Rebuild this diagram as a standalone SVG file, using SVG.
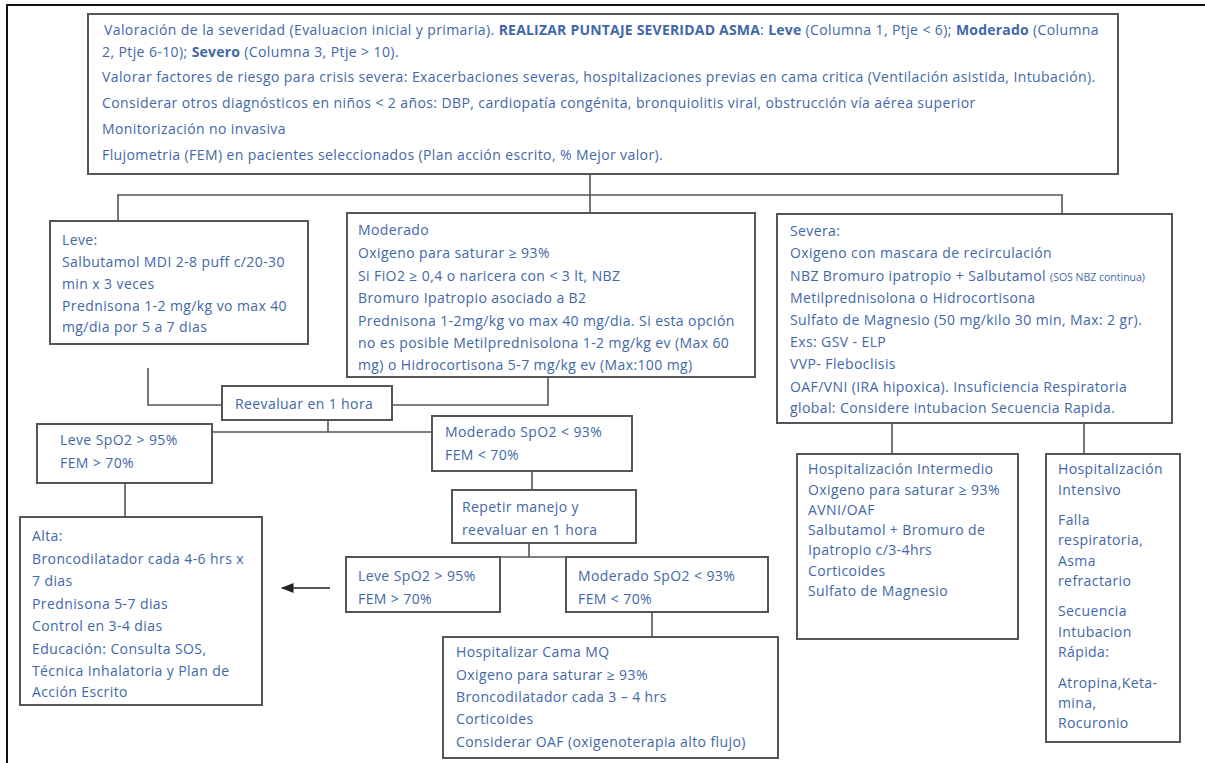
<svg xmlns="http://www.w3.org/2000/svg" width="1205" height="763" viewBox="0 0 1205 763">
<style>
.box{fill:#fff;stroke:#555;stroke-width:2}
.ln{fill:none;stroke:#555;stroke-width:1.6}
text{font-family:"Open Sans","Liberation Sans",sans-serif;font-size:14px;letter-spacing:0.4px;fill:#4267a8}
.b{font-weight:bold;letter-spacing:0.2px}
.sm{font-size:10.5px;letter-spacing:0}
</style>
<defs>
<marker id="ah" viewBox="0 0 10 10" refX="9" refY="5" markerWidth="8" markerHeight="8" orient="auto"><path d="M0,1 L10,5 L0,9 z" fill="#222"/></marker>
</defs>
<rect width="1205" height="763" fill="#fff"/>
<path d="M7,763 V5 H1205" fill="none" stroke="#111" stroke-width="2"/>
<g id="connectors">
<path class="ln" d="M590,174 V213"/>
<path class="ln" d="M118,221 V195 H1062 V214"/>
<path class="ln" d="M148,368 V405 H222"/>
<path class="ln" d="M392,405 H548 V377"/>
<path class="ln" d="M328,420 V432 M212,432 H432"/>
<path class="ln" d="M125,483 V517"/>
<path class="ln" d="M532,471 V490"/>
<path class="ln" d="M529,543 V557 M500,557 H566"/>
<path class="ln" d="M652,612 V637"/>
<path class="ln" d="M892,423 V454 M1084,423 V454"/>
<path d="M330,588 H282" fill="none" stroke="#222" stroke-width="1.6" marker-end="url(#ah)"/>
</g>
<g id="top">
<rect class="box" x="88" y="14" width="1030" height="160"/>
<text x="104" y="35"> Valoración de la severidad (Evaluacion inicial y primaria). <tspan class="b">REALIZAR PUNTAJE SEVERIDAD  ASMA</tspan>: <tspan class="b">Leve</tspan> (Columna 1, Ptje &lt; 6); <tspan class="b">Moderado</tspan> (Columna</text>
<text x="102" y="57">2, Ptje 6-10); <tspan class="b">Severo</tspan> (Columna 3, Ptje &gt; 10).</text>
<text x="102" y="82">Valorar factores de riesgo para crisis severa: Exacerbaciones severas, hospitalizaciones previas en cama critica (Ventilación asistida, Intubación).</text>
<text x="102" y="108">Considerar otros diagnósticos en niños &lt; 2 años: DBP,  cardiopatía congénita, bronquiolitis viral, obstrucción vía aérea superior</text>
<text x="102" y="134">Monitorización no invasiva</text>
<text x="102" y="160">Flujometria (FEM) en  pacientes seleccionados (Plan acción escrito, % Mejor valor).</text>
</g>
<g id="leve">
<rect class="box" x="50" y="221" width="258" height="123"/>
<text x="62" y="245">Leve:</text>
<text x="62" y="267">Salbutamol MDI 2-8 puff c/20-30</text>
<text x="62" y="289">min x 3 veces</text>
<text x="62" y="311">Prednisona 1-2 mg/kg vo max 40</text>
<text x="62" y="332">mg/dia por 5 a 7 dias</text>
</g>
<g id="moderado">
<rect class="box" x="347" y="213" width="408" height="164"/>
<text x="358" y="235">Moderado</text>
<text x="358" y="258">Oxigeno para saturar ≥ 93%</text>
<text x="358" y="281">Si FiO2 ≥ 0,4 o naricera con &lt; 3 lt, NBZ</text>
<text x="358" y="303">Bromuro Ipatropio asociado a B2</text>
<text x="358" y="326">Prednisona 1-2mg/kg vo max 40 mg/dia. Si esta opción</text>
<text x="358" y="348">no es posible Metilprednisolona 1-2 mg/kg ev (Max 60</text>
<text x="358" y="370">mg) o Hidrocortisona 5-7 mg/kg ev (Max:100 mg)</text>
</g>
<g id="severa">
<rect class="box" x="777" y="214" width="395" height="209"/>
<text x="790" y="236">Severa:</text>
<text x="790" y="258">Oxigeno con mascara de recirculación</text>
<text x="790" y="281">NBZ Bromuro ipatropio + Salbutamol <tspan class="sm">(SOS NBZ continua)</tspan></text>
<text x="790" y="303">Metilprednisolona o Hidrocortisona</text>
<text x="790" y="325">Sulfato de Magnesio (50 mg/kilo 30 min, Max: 2 gr).</text>
<text x="790" y="347">Exs: GSV - ELP</text>
<text x="790" y="369">VVP- Fleboclisis</text>
<text x="790" y="392">OAF/VNI (IRA hipoxica). Insuficiencia Respiratoria</text>
<text x="790" y="413">global: Considere intubacion Secuencia Rapida.</text>
</g>
<g id="reevaluar">
<rect class="box" x="222" y="386" width="170" height="34"/>
<text x="235" y="409">Reevaluar en 1 hora</text>
</g>
<g id="leve-spo2-1">
<rect class="box" x="37" y="424" width="175" height="59"/>
<text x="60" y="445">Leve SpO2 &gt; 95%</text>
<text x="60" y="468">FEM &gt; 70%</text>
</g>
<g id="moderado-spo2-1">
<rect class="box" x="432" y="416" width="200" height="55"/>
<text x="445" y="437">Moderado SpO2 &lt; 93%</text>
<text x="445" y="460">FEM &lt; 70%</text>
</g>
<g id="repetir">
<rect class="box" x="452" y="490" width="184" height="53"/>
<text x="462" y="512">Repetir manejo y</text>
<text x="462" y="535">reevaluar en 1 hora</text>
</g>
<g id="alta">
<rect class="box" x="20" y="517" width="242" height="188"/>
<text x="32" y="541">Alta:</text>
<text x="32" y="564">Broncodilatador cada 4-6 hrs x</text>
<text x="32" y="586">7 dias</text>
<text x="32" y="609">Prednisona 5-7 dias</text>
<text x="32" y="631">Control en 3-4 dias</text>
<text x="32" y="654">Educación: Consulta SOS,</text>
<text x="32" y="676">Técnica Inhalatoria y Plan de</text>
<text x="32" y="697">Acción Escrito</text>
</g>
<g id="leve-spo2-2">
<rect class="box" x="346" y="557" width="154" height="55"/>
<text x="358" y="581">Leve SpO2 &gt; 95%</text>
<text x="358" y="604">FEM &gt; 70%</text>
</g>
<g id="moderado-spo2-2">
<rect class="box" x="566" y="557" width="202" height="55"/>
<text x="578" y="581">Moderado SpO2 &lt; 93%</text>
<text x="578" y="604">FEM &lt; 70%</text>
</g>
<g id="hospitalizar">
<rect class="box" x="443" y="637" width="335" height="121"/>
<text x="456" y="657">Hospitalizar Cama MQ</text>
<text x="456" y="680">Oxigeno para saturar ≥ 93%</text>
<text x="456" y="702">Broncodilatador cada 3 – 4 hrs</text>
<text x="456" y="724">Corticoides</text>
<text x="456" y="747">Considerar OAF (oxigenoterapia  alto flujo)</text>
</g>
<g id="hosp-intermedio">
<rect class="box" x="797" y="454" width="221" height="185"/>
<text x="808" y="474">Hospitalización Intermedio</text>
<text x="808" y="495">Oxigeno para saturar ≥ 93%</text>
<text x="808" y="515">AVNI/OAF</text>
<text x="808" y="535">Salbutamol + Bromuro de</text>
<text x="808" y="555">Ipatropio c/3-4hrs</text>
<text x="808" y="576">Corticoides</text>
<text x="808" y="596">Sulfato de Magnesio</text>
</g>
<g id="hosp-intensivo">
<rect class="box" x="1046" y="454" width="134" height="288"/>
<text x="1058" y="474">Hospitalización</text>
<text x="1058" y="495">Intensivo</text>
<text x="1058" y="525">Falla</text>
<text x="1058" y="545">respiratoria,</text>
<text x="1058" y="566">Asma</text>
<text x="1058" y="586">refractario</text>
<text x="1058" y="616">Secuencia</text>
<text x="1058" y="637">Intubacion</text>
<text x="1058" y="657">Rápida:</text>
<text x="1058" y="688">Atropina,Keta-</text>
<text x="1058" y="708">mina,</text>
<text x="1058" y="728">Rocuronio</text>
</g>
</svg>
